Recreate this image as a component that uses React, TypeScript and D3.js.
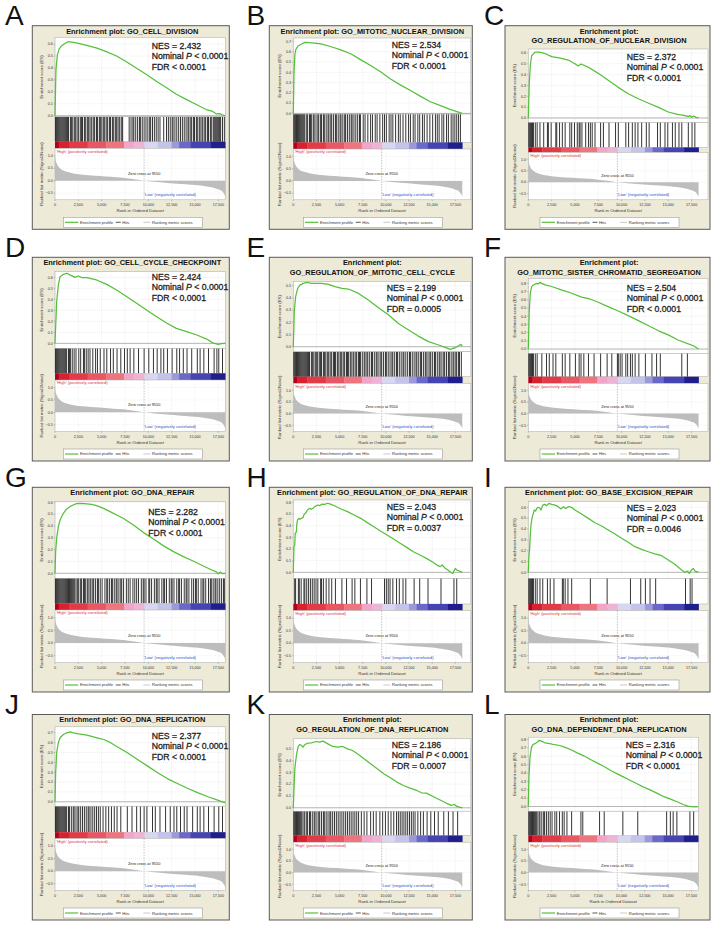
import React from "react";
import * as d3 from "d3";

const FONT = "'Liberation Sans', Arial, Helvetica, sans-serif";

// ---------------- DATA ----------------
const GENE_COUNT = 18250;
const ZERO_CROSS = 9550;
const ZERO_CROSS_LABEL = "Zero cross at 9550";

const letters = ["A", "B", "C", "D", "E", "F", "G", "H", "I", "J", "K", "L"];

const titles: string[][] = [
  ["Enrichment plot: GO_CELL_DIVISION"],
  ["Enrichment plot: GO_MITOTIC_NUCLEAR_DIVISION"],
  ["Enrichment plot:", "GO_REGULATION_OF_NUCLEAR_DIVISION"],
  ["Enrichment plot: GO_CELL_CYCLE_CHECKPOINT"],
  ["Enrichment plot:", "GO_REGULATION_OF_MITOTIC_CELL_CYCLE"],
  ["Enrichment plot:", "GO_MITOTIC_SISTER_CHROMATID_SEGREGATION"],
  ["Enrichment plot: GO_DNA_REPAIR"],
  ["Enrichment plot: GO_REGULATION_OF_DNA_REPAIR"],
  ["Enrichment plot: GO_BASE_EXCISION_REPAIR"],
  ["Enrichment plot: GO_DNA_REPLICATION"],
  ["Enrichment plot:", "GO_REGULATION_OF_DNA_REPLICATION"],
  ["Enrichment plot:", "GO_DNA_DEPENDENT_DNA_REPLICATION"],
];

const nesValues = ["2.432", "2.534", "2.372", "2.424", "2.199", "2.504", "2.282", "2.043", "2.023", "2.377", "2.186", "2.316"];
const nominalP = ["< 0.0001", "< 0.0001", "< 0.0001", "< 0.0001", "< 0.0001", "< 0.0001", "< 0.0001", "< 0.0001", "< 0.0001", "< 0.0001", "< 0.0001", "< 0.0001"];
const fdrValues = ["< 0.0001", "< 0.0001", "< 0.0001", "< 0.0001", "= 0.0005", "< 0.0001", "< 0.0001", "= 0.0037", "= 0.0046", "< 0.0001", "= 0.0007", "< 0.0001"];

// running enrichment score: [rank, ES]
const esA = [[0,0],[100,0.38],[250,0.51],[450,0.56],[700,0.585],[1050,0.605],[1400,0.62],[1800,0.617],[2300,0.61],[3400,0.59],[4500,0.567],[5500,0.537],[6600,0.5],[7700,0.45],[8700,0.4],[9800,0.345],[10900,0.287],[12000,0.232],[13000,0.18],[14100,0.135],[15200,0.092],[16200,0.052],[16900,0.036],[17300,0.015],[17650,0.018],[17950,0.008],[18250,0]];
const esB = [[0,0],[80,0.4],[180,0.58],[290,0.625],[540,0.658],[900,0.675],[1250,0.69],[1600,0.688],[2300,0.684],[3000,0.675],[4100,0.648],[5200,0.615],[6250,0.577],[7300,0.52],[8400,0.463],[9500,0.4],[10500,0.335],[11600,0.275],[12700,0.22],[13750,0.165],[14800,0.113],[15900,0.075],[17000,0.036],[18250,0]];
const esC = [[0,0],[100,0.31],[210,0.48],[360,0.575],[540,0.592],[720,0.607],[1100,0.608],[1450,0.603],[1800,0.595],[2500,0.566],[3300,0.556],[4300,0.535],[5000,0.5],[5350,0.48],[5650,0.498],[6400,0.47],[7500,0.412],[8600,0.345],[9600,0.285],[10700,0.224],[11800,0.177],[12900,0.136],[13900,0.1],[15000,0.055],[16000,0.033],[16800,0.022],[17150,0.012],[17300,0.022],[17500,0.006],[17700,0.018],[18000,0.006],[18250,0]];
const esD = [[0,0],[180,0.38],[360,0.53],[540,0.605],[900,0.627],[1250,0.637],[1600,0.622],[2150,0.6],[2500,0.612],[2850,0.598],[3400,0.597],[4450,0.576],[5550,0.536],[6600,0.485],[7700,0.424],[8750,0.364],[9800,0.303],[10900,0.242],[12000,0.182],[13000,0.136],[14100,0.106],[15200,0.076],[16250,0.039],[16950,0.002],[17500,-0.009],[17850,-0.003],[18250,0]];
const esE = [[0,0],[110,0.29],[250,0.41],[470,0.478],[720,0.505],[1080,0.519],[1450,0.527],[2000,0.52],[3050,0.52],[3800,0.511],[4500,0.492],[5250,0.478],[5950,0.473],[7050,0.437],[8100,0.383],[9200,0.32],[10300,0.26],[11350,0.19],[12450,0.137],[13500,0.087],[14600,0.042],[15700,0.014],[16400,-0.005],[16950,-0.022],[17500,-0.008],[17850,0.008],[18100,0.019],[18250,0.006]];
const esF = [[0,0],[100,0.455],[210,0.68],[360,0.76],[540,0.78],[720,0.79],[900,0.8],[1070,0.793],[1250,0.813],[1430,0.8],[1800,0.782],[2500,0.762],[3550,0.72],[4650,0.68],[5700,0.632],[6600,0.61],[7500,0.57],[8550,0.517],[9650,0.463],[10700,0.407],[11800,0.346],[12850,0.286],[13950,0.222],[15000,0.172],[16050,0.11],[17150,0.062],[17700,0.04],[18250,0]];
const esG = [[0,0],[70,0.18],[180,0.3],[360,0.395],[540,0.45],[900,0.507],[1250,0.544],[1600,0.563],[1950,0.577],[2300,0.589],[2850,0.59],[3400,0.586],[3950,0.582],[4450,0.572],[5200,0.549],[5900,0.521],[6600,0.493],[7300,0.465],[8400,0.408],[9450,0.346],[10550,0.29],[11600,0.234],[12700,0.183],[13750,0.141],[14800,0.104],[15900,0.062],[16800,0.028],[17250,0.014],[17500,-0.004],[17700,0.012],[17950,-0.002],[18250,0]];
const esH = [[0,0],[70,0.22],[150,0.23],[210,0.335],[320,0.343],[390,0.42],[460,0.449],[600,0.463],[710,0.455],[890,0.463],[1060,0.47],[1170,0.497],[1310,0.506],[1530,0.534],[1780,0.549],[1950,0.54],[2130,0.55],[2310,0.563],[2660,0.577],[2850,0.572],[3090,0.584],[3370,0.583],[3730,0.592],[4080,0.583],[4440,0.571],[5150,0.543],[5860,0.52],[6570,0.491],[7280,0.463],[7990,0.426],[8700,0.391],[9410,0.354],[10120,0.32],[10830,0.286],[11540,0.249],[12250,0.214],[12960,0.177],[13670,0.149],[14380,0.12],[15090,0.086],[15620,0.057],[15870,0.049],[16090,0.063],[16340,0.04],[16690,0.02],[17050,-0.003],[17230,-0.01],[17400,0.02],[17510,0.034],[17650,0.02],[18250,0]];
const esI = [[0,0],[70,0.16],[140,0.205],[210,0.345],[290,0.437],[390,0.498],[540,0.545],[640,0.575],[790,0.566],[890,0.59],[1070,0.6],[1250,0.591],[1360,0.575],[1540,0.62],[1790,0.628],[1960,0.615],[2210,0.637],[2500,0.628],[2860,0.62],[3210,0.606],[3500,0.585],[3750,0.606],[4000,0.59],[4290,0.606],[4640,0.6],[5000,0.575],[5710,0.538],[6430,0.498],[7140,0.458],[7860,0.428],[8570,0.391],[9290,0.354],[10000,0.314],[10710,0.277],[11430,0.237],[12140,0.212],[12860,0.19],[13570,0.17],[14290,0.154],[15000,0.114],[15710,0.074],[16430,0.022],[16790,0],[17070,0.012],[17250,-0.01],[17500,0.022],[17680,0.037],[17860,0.012],[18250,0]];
const esJ = [[0,0],[70,0.29],[180,0.5],[360,0.6],[540,0.65],[900,0.683],[1260,0.7],[1620,0.71],[1980,0.7],[2520,0.69],[3430,0.676],[4510,0.649],[5230,0.632],[5950,0.6],[6670,0.558],[7760,0.497],[8840,0.43],[9920,0.362],[11000,0.294],[12080,0.233],[13170,0.183],[14250,0.135],[15330,0.091],[16410,0.051],[17500,0.014],[18000,-0.003],[18250,-0.008]];
const esK = [[0,0],[70,0.147],[180,0.345],[360,0.458],[530,0.52],[710,0.537],[890,0.528],[1060,0.514],[1240,0.537],[1600,0.548],[1950,0.551],[2490,0.562],[2840,0.556],[3200,0.565],[3730,0.542],[4260,0.52],[4790,0.514],[5330,0.52],[5860,0.5],[6390,0.486],[6920,0.458],[7640,0.415],[8350,0.373],[9060,0.331],[9770,0.288],[10480,0.254],[11190,0.218],[11900,0.189],[12610,0.167],[13320,0.147],[13850,0.127],[14380,0.124],[15090,0.096],[15800,0.068],[16510,0.04],[17050,0.02],[17400,0.028],[17650,0.011],[18250,0]];
const esL = [[0,0],[70,0.35],[180,0.59],[350,0.709],[530,0.741],[710,0.75],[990,0.77],[1170,0.79],[1410,0.78],[1770,0.76],[2300,0.75],[2830,0.737],[3360,0.728],[3890,0.709],[4600,0.677],[5300,0.637],[6010,0.602],[6720,0.558],[7430,0.518],[8130,0.478],[8840,0.43],[9550,0.39],[10250,0.35],[10960,0.311],[11670,0.271],[12380,0.231],[13080,0.199],[13790,0.159],[14500,0.12],[15200,0.092],[15910,0.06],[16620,0.024],[17150,0.004],[17500,-0.002],[17900,-0.003],[18250,0]];
const esCurves = [esA, esB, esC, esD, esE, esF, esG, esH, esI, esJ, esK, esL];

// gene-set hits, positions in units of 100 ranks
const hitsA = [0,1,2,3,4,5,6,7,8,9,10,11,12,13,14,16,17,18,20,21,22,24,25,27,28,29,31,32,34,35,36,38,39,41,42,44,45,47,48,49,51,52,53,55,56,58,59,61,62,64,65,66,68,69,71,72,79,81,83,84,86,88,90,91,93,95,97,99,101,102,104,106,108,110,112,116,119,121,123,125,126,128,130,132,134,136,138,140,142,143,145,146,148,149,151,152,154,155,157,158,160,161,163,164,166,167,169,170,171,172,173,174,175,176,177,179,181];
const hitsB = [0,1,2,3,4,5,6,7,8,9,10,11,12,14,15,17,18,19,21,22,24,26,27,29,30,32,33,35,37,38,40,41,43,45,46,48,50,51,53,55,56,58,60,62,63,65,67,69,71,72,75,77,80,83,85,88,90,93,96,98,100,103,105,107,110,113,115,118,121,124,126,129,131,134,136,139,141,144,147,150,153,155,157,160,162,165,167,170,172,174,176,178,180];
const hitsC = [0,1,2,3,4,5,7,9,12,16,20,21,24,29,30,33,36,39,44,46,49,52,54,55,57,61,64,66,68,71,77,80,86,93,96,104,107,111,114,117,121,126,129,138,141,146,149,154,157,161,164,171,175,178];
const hitsD = [0,1,2,3,4,5,6,7,8,9,10,11,12,14,15,16,18,20,22,25,27,30,31,33,35,37,40,43,45,48,52,55,59,62,66,70,74,77,80,84,89,95,100,105,109,113,116,120,125,130,133,137,141,146,152,155,159,164,170,173,175,179];
const hitsE = [0,1,2,3,4,5,6,7,8,9,10,11,12,13,14,15,16,17,19,20,21,23,24,25,26,28,29,30,32,33,34,36,37,38,40,41,43,44,45,47,48,50,51,52,54,55,57,58,59,61,62,64,65,67,68,70,71,72,74,76,77,79,80,82,84,85,87,89,90,92,94,95,97,99,100,102,104,106,107,109,111,112,114,116,118,119,121,123,125,126,128,130,132,133,135,137,138,140,142,143,145,147,148,150,152,153,155,157,158,160,162,163,165,167,168,170,172,173,175,176,178,179,181];
const hitsF = [0,1,2,3,4,5,7,9,14,19,22,26,29,36,39,44,50,54,56,59,64,70,77,84,89,95,96,98,100,104,106,109,111,114,118,125,132,137,141,164,170];
const hitsG = [0,1,2,3,4,5,6,7,8,9,10,11,12,13,14,15,16,17,18,19,20,21,23,24,25,27,28,30,31,32,34,35,37,38,40,41,43,45,46,48,50,53,55,56,58,60,61,63,65,66,68,70,71,73,76,78,80,83,85,87,89,92,94,95,97,100,101,103,106,108,109,111,114,116,117,119,122,124,125,127,130,132,133,135,138,140,141,143,146,148,150,151,153,156,158,159,161,164,166,167,169,171,172,174,176,178,180,181];
const hitsH = [1,2,5,6,8,11,12,14,16,18,20,22,24,26,29,30,32,35,38,41,45,52,57,63,66,72,79,84,98,100,102,104,107,111,114,118,121,130,136,145,159,173,176];
const hitsI = [0,1,2,3,4,5,7,9,12,15,20,23,27,36,37,39,42,46,66,84,109,120,125,130,136,168,173,175];
const hitsJ = [0,1,2,3,4,5,6,7,8,9,10,11,12,14,15,17,19,20,22,24,25,27,29,31,33,35,36,38,40,42,44,46,48,51,54,57,60,63,66,70,77,82,87,91,95,98,104,107,112,118,123,127,130,134,138,141,147,152,155,159,164,170,175,179];
const hitsK = [0,1,2,3,4,5,6,7,8,9,11,12,14,15,17,18,20,22,23,25,27,28,30,32,33,35,37,39,40,42,44,46,48,50,52,54,56,58,60,62,64,66,68,70,73,76,79,83,86,89,93,96,99,102,105,108,111,113,115,117,119,121,123,125,127,129,131,134,137,140,144,148,152,156,162,167,172,177];
const hitsL = [0,1,2,3,4,5,6,7,8,9,11,12,14,16,17,19,21,23,25,28,30,33,36,38,41,46,56,58,76,81,101,117,148,152,155,159,173,177];
const hitBins = [hitsA, hitsB, hitsC, hitsD, hitsE, hitsF, hitsG, hitsH, hitsI, hitsJ, hitsK, hitsL];

// ES axis ranges
const esDomains = [
  [-0.008, 0.657], [-0.006, 0.733], [-0.041, 0.637],
  [-0.045, 0.651], [-0.041, 0.533], [-0.052, 0.862],
  [-0.042, 0.605], [-0.051, 0.62], [-0.055, 0.652],
  [-0.045, 0.761], [-0.029, 0.585], [-0.056, 0.827],
];

// ranked list metric: [rank, value]
const metricCurve = [[0,1.02],[40,0.9],[180,0.7],[540,0.5],[1250,0.36],[2000,0.29],[3000,0.24],[4800,0.19],[6000,0.155],[7300,0.12],[8500,0.06],[9550,0],[10600,-0.045],[12000,-0.09],[13500,-0.135],[15600,-0.2],[16600,-0.26],[17400,-0.34],[17900,-0.43],[18100,-0.52],[18250,-0.64]];
const metricDomain = [-0.77, 1.3];
const metricTicks = [1.0, 0.5, 0.0, -0.5];
const xTicks = [0, 2500, 5000, 7500, 10000, 12500, 15000, 17500];

// heat bar bins: [end rank, colour]
const colorBins: [number, string][] = [
  [400, "#B0001C"], [1500, "#D8202E"], [3500, "#E23A46"], [5500, "#E95764"], [7400, "#EE7580"],
  [8500, "#F1A6C8"], [9600, "#EEB4D5"], [11000, "#D8D6F0"], [12500, "#C4C3EA"], [13300, "#9A99DA"],
  [14500, "#6A69CA"], [16700, "#4444B2"], [18250, "#1E1E8C"],
];

// ---------------- LAYOUT ----------------
const colLeft = [32.3, 269.3, 505];
const colWidth = [197, 203, 205];
const plotLefts = [22.7, 24, 23.3];
const rowTop = [25.7, 257.3, 487.3, 714.5];
const rowHeight = [203.6, 203.7, 204.7, 205.5];
const letterX = [5, 246.5, 484];

const panelLayout = [
  { plotRight: 193, xMax: 18250, esTop: 11.6, hitsTop: 91, barTop: 116, rankTop: 122.6, nesX: 119.4, nesY: 23.3 },
  { plotRight: 201.5, xMax: 19170, esTop: 12.3, hitsTop: 88.3, barTop: 116.7, rankTop: 123.3, nesX: 122.4, nesY: 22.3 },
  { plotRight: 203, xMax: 19260, esTop: 23.3, hitsTop: 96.7, barTop: 121.7, rankTop: 126.7, nesX: 121.7, nesY: 34 },
  { plotRight: 193, xMax: 18250, esTop: 14.4, hitsTop: 91, barTop: 116, rankTop: 122.7, nesX: 119.4, nesY: 22.7 },
  { plotRight: 201.5, xMax: 19170, esTop: 24.4, hitsTop: 94.4, barTop: 119.4, rankTop: 126, nesX: 117.4, nesY: 33.4 },
  { plotRight: 203, xMax: 19260, esTop: 21, hitsTop: 96, barTop: 119.4, rankTop: 126, nesX: 121.7, nesY: 33.4 },
  { plotRight: 193, xMax: 18250, esTop: 14.4, hitsTop: 91, barTop: 116, rankTop: 122.7, nesX: 116, nesY: 27.7 },
  { plotRight: 201.5, xMax: 19170, esTop: 12.7, hitsTop: 91, barTop: 116.7, rankTop: 123.3, nesX: 117.4, nesY: 22.7 },
  { plotRight: 203, xMax: 19260, esTop: 14.4, hitsTop: 91, barTop: 116.7, rankTop: 123.3, nesX: 121.7, nesY: 23.3 },
  { plotRight: 193, xMax: 18250, esTop: 12.3, hitsTop: 91.7, barTop: 117.7, rankTop: 124, nesX: 119.4, nesY: 24.3 },
  { plotRight: 201.5, xMax: 19170, esTop: 24.3, hitsTop: 96.7, barTop: 121, rankTop: 127.7, nesX: 122.4, nesY: 33.3 },
  { plotRight: 193.3, xMax: 18250, esTop: 22.7, hitsTop: 96.7, barTop: 121, rankTop: 127.7, nesX: 120.7, nesY: 33.3 },
];

const GREEN = "#55C03A";
const fmtTick = d3.format(",");
const fmtY = d3.format(".1f");

function Panel({ i }: { i: number }) {
  const col = i % 3;
  const row = Math.floor(i / 3);
  const bx = colLeft[col];
  const by = rowTop[row];
  const W = colWidth[col];
  const H = rowHeight[row];
  const L = panelLayout[i];
  const pl = plotLefts[col];
  const pr = L.plotRight;
  const rankBottom = H - 29.5;

  const x = d3.scaleLinear().domain([0, L.xMax]).range([pl, pr]);
  const yES = d3.scaleLinear().domain(esDomains[i]).range([L.hitsTop, L.esTop]);
  const yR = d3.scaleLinear().domain(metricDomain).range([rankBottom, L.rankTop]);

  const esTicks = yES.ticks(8).filter((v) => v >= -1e-9);
  const line = d3.line<number[]>().x((d) => x(d[0])).y((d) => yES(d[1]));
  const area = d3
    .area<number[]>()
    .x((d) => x(d[0]))
    .y0(yR(0))
    .y1((d) => yR(d[1]))
    .curve(d3.curveMonotoneX);

  const t = titles[i];
  const cx = W / 2 + 1.5;
  const small = 4.3;
  const tickFs = 3.7;
  const legFs = 4.1;

  let prev = 0;
  const bars = colorBins.map(([end, c], k) => {
    const x0 = x(prev);
    const x1 = x(end);
    prev = end;
    return <rect key={k} x={x0} y={L.barTop} width={x1 - x0 + 0.3} height={L.rankTop - L.barTop} fill={c} />;
  });

  const legW = 139;
  const legX = W / 2 + 2 - legW / 2;
  const legY = H - 12;
  const legMid = legY + 5;

  return (
    <g transform={`translate(${bx},${by})`} fontFamily={FONT}>
      <text x={letterX[col] - bx} y={-0.8} fontSize={28} fill="#111">{letters[i]}</text>
      <rect x={0} y={0} width={W} height={H} fill="#EDEAD8" stroke="#5a5a5a" strokeWidth={1} />
      {t.length === 1 ? (
        <text x={cx} y={7.9} textAnchor="middle" fontSize={7.4} fontWeight="bold" fill="#111">{t[0]}</text>
      ) : (
        <>
          <text x={cx} y={7.9} textAnchor="middle" fontSize={7.4} fontWeight="bold" fill="#111">{t[0]}</text>
          <text x={cx} y={17.6} textAnchor="middle" fontSize={7.4} fontWeight="bold" fill="#111">{t[1]}</text>
        </>
      )}

      {/* ES plot */}
      <rect x={pl} y={L.esTop} width={pr - pl} height={L.hitsTop - L.esTop} fill="#fff" stroke="#a8a8a8" strokeWidth={0.5} />
      {xTicks.map((v) => (
        <line key={"gx" + v} x1={x(v)} x2={x(v)} y1={L.esTop} y2={L.hitsTop} stroke="#d4d4d4" strokeWidth={0.4} strokeDasharray="1,1" />
      ))}
      {esTicks.map((v) => (
        <line key={"gy" + v} x1={pl} x2={pr} y1={yES(v)} y2={yES(v)} stroke="#d4d4d4" strokeWidth={0.4} strokeDasharray="1,1" />
      ))}
      <line x1={pl} x2={pr} y1={yES(0)} y2={yES(0)} stroke="#9a9a9a" strokeWidth={0.7} />
      <path d={line(esCurves[i] as number[][]) || ""} fill="none" stroke={GREEN} strokeWidth={1.25} strokeLinejoin="round" />
      {esTicks.map((v) => (
        <g key={"ty" + v}>
          <line x1={pl - 1.2} x2={pl} y1={yES(v)} y2={yES(v)} stroke="#666" strokeWidth={0.4} />
          <text x={pl - 2.2} y={yES(v) + 1.3} textAnchor="end" fontSize={tickFs} fill="#333">{fmtY(v)}</text>
        </g>
      ))}
      <text transform={`translate(${pl - 12.5},${(L.esTop + L.hitsTop) / 2}) rotate(-90)`} textAnchor="middle" fontSize={small} fill="#333">Enrichment score (ES)</text>

      {/* statistics */}
      <g fontSize={8.7} fill="#222" stroke="#222" strokeWidth={0.28}>
        <text x={L.nesX} y={L.nesY}>NES = {nesValues[i]}</text>
        <text x={L.nesX} y={L.nesY + 10.5}>Nominal <tspan fontStyle="italic">P</tspan> {nominalP[i]}</text>
        <text x={L.nesX} y={L.nesY + 21}>FDR {fdrValues[i]}</text>
      </g>

      {/* hits */}
      <rect x={pl} y={L.hitsTop} width={pr - pl} height={L.barTop - L.hitsTop} fill="#fff" stroke="#a8a8a8" strokeWidth={0.5} />
      {hitBins[i].map((b, k) => (
        <line key={"h" + k} x1={x(b * 100 + 50)} x2={x(b * 100 + 50)} y1={L.hitsTop + 0.3} y2={L.barTop} stroke="#111" strokeWidth={0.85} />
      ))}

      {/* heat bar */}
      {bars}

      {/* ranked list metric */}
      <rect x={pl} y={L.rankTop} width={pr - pl} height={rankBottom - L.rankTop} fill="#fff" stroke="#a8a8a8" strokeWidth={0.5} />
      {xTicks.map((v) => (
        <line key={"rgx" + v} x1={x(v)} x2={x(v)} y1={L.rankTop} y2={rankBottom} stroke="#dcdcdc" strokeWidth={0.4} strokeDasharray="1,1" />
      ))}
      {metricTicks.map((v) => (
        <line key={"rgy" + v} x1={pl} x2={pr} y1={yR(v)} y2={yR(v)} stroke="#dcdcdc" strokeWidth={0.4} strokeDasharray="1,1" />
      ))}
      <path d={area(metricCurve as number[][]) || ""} fill="#BDBDBD" stroke="none" />
      <line x1={x(ZERO_CROSS)} x2={x(ZERO_CROSS)} y1={L.rankTop} y2={rankBottom} stroke="#8a8a8a" strokeWidth={0.5} strokeDasharray="1.5,1.2" />
      <text x={x(ZERO_CROSS)} y={yR(0.24)} textAnchor="middle" fontSize={3.9} fill="#222">{ZERO_CROSS_LABEL}</text>
      <text x={pl + 1.5} y={L.rankTop + 4.3} fontSize={4.2} fill="#E0303A">'High' (positively correlated)</text>
      <text x={x(ZERO_CROSS)} y={rankBottom - 3.3} fontSize={4.2} fill="#3050C8">'Low' (negatively correlated)</text>
      {metricTicks.map((v) => (
        <g key={"try" + v}>
          <line x1={pl - 1.2} x2={pl} y1={yR(v)} y2={yR(v)} stroke="#666" strokeWidth={0.4} />
          <text x={pl - 2.2} y={yR(v) + 1.3} textAnchor="end" fontSize={tickFs} fill="#333">{fmtY(v)}</text>
        </g>
      ))}
      {xTicks.map((v) => (
        <g key={"tx" + v}>
          <line x1={x(v)} x2={x(v)} y1={rankBottom} y2={rankBottom + 1.2} stroke="#666" strokeWidth={0.4} />
          <text x={x(v)} y={H - 23} textAnchor="middle" fontSize={tickFs} fill="#333">{fmtTick(v)}</text>
        </g>
      ))}
      <text x={(pl + pr) / 2} y={H - 17} textAnchor="middle" fontSize={small} fill="#333">Rank in Ordered Dataset</text>
      <text transform={`translate(${pl - 12.5},${(L.rankTop + rankBottom) / 2}) rotate(-90)`} textAnchor="middle" fontSize={small} fill="#333">Ranked list metric (Signal2Noise)</text>

      {/* legend */}
      <rect x={legX} y={legY} width={legW} height={10} fill="#fff" stroke="#8a8a8a" strokeWidth={0.5} />
      <line x1={legX + 1.7} x2={legX + 15} y1={legMid} y2={legMid} stroke={GREEN} strokeWidth={1.2} />
      <text x={legX + 16.7} y={legMid + 1.5} fontSize={legFs} fill="#333">Enrichment profile</text>
      <line x1={legX + 52.5} x2={legX + 57.5} y1={legMid} y2={legMid} stroke="#111" strokeWidth={0.7} />
      <text x={legX + 59} y={legMid + 1.5} fontSize={legFs} fill="#333">Hits</text>
      <line x1={legX + 80} x2={legX + 87} y1={legMid} y2={legMid} stroke="#c4c4c4" strokeWidth={0.9} />
      <text x={legX + 88.7} y={legMid + 1.5} fontSize={legFs} fill="#333">Ranking metric scores</text>
    </g>
  );
}

export default function App() {
  return (
    <svg
      width={716}
      height={927}
      viewBox="0 0 716 927"
      style={{ position: "absolute", left: 0, top: 0, background: "#fff" }}
    >
      <rect x={0} y={0} width={716} height={927} fill="#fff" />
      {letters.map((_, i) => (
        <Panel key={i} i={i} />
      ))}
    </svg>
  );
}
